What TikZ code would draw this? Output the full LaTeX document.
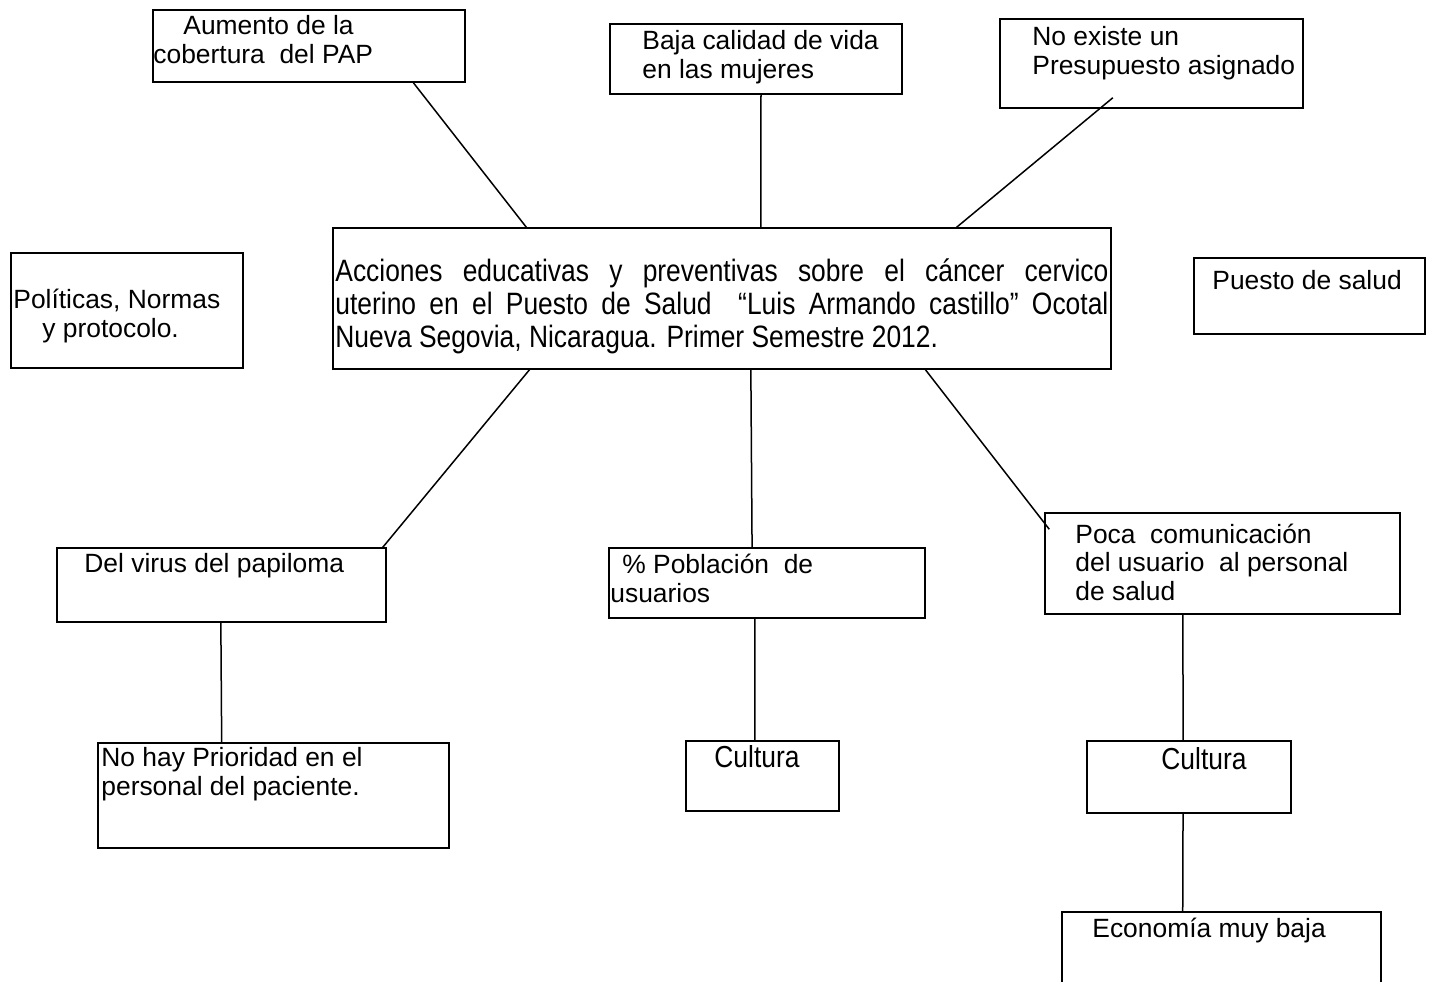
\documentclass[tikz,border=0pt]{standalone}
\usepackage{fontspec}
\setmainfont{Liberation Sans}
\usetikzlibrary{calc,fit}

\begin{document}
\begin{tikzpicture}[
  x=0.5pt, y=-0.5pt,
  font=\fontsize{13.2}{14.2}\selectfont,
  caja/.style={draw,rectangle,line width=0.75pt,inner sep=0pt},
  etiqueta/.style={anchor=base west,inner sep=0pt,align=left},
  enlace/.style={-,line width=0.75pt,black}]

  \clip (0,0) rectangle (1434,981);

  % Cajas (box corners taken from the page layout)
  \node[caja,fit={(153,10) (465,82)}] (cob) {};
  \node[caja,fit={(610,24) (902,94)}] (baja) {};
  \node[caja,fit={(1000,19) (1303,108)}] (pres) {};
  \node[caja,fit={(333,228) (1111,369)}] (centro) {};
  \node[caja,fit={(11,253) (243,368)}] (pol) {};
  \node[caja,fit={(1194,258) (1425,334)}] (puesto) {};
  \node[caja,fit={(57,548) (386,622)}] (virus) {};
  \node[caja,fit={(609,548) (925,618)}] (pob) {};
  \node[caja,fit={(1045,513) (1400,614)}] (poca) {};
  \node[caja,fit={(98,743) (449,848)}] (noHay) {};
  \node[caja,fit={(686,741) (839,811)}] (cult1) {};
  \node[caja,fit={(1087,741) (1291,813)}] (cult2) {};
  \node[caja,fit={(1062,912) (1381,1000)}] (econ) {};

  % Textos (base = baseline of the last line)
  \node[etiqueta] (cobT) at (153,63) {\hspace*{15pt}Aumento de la\\cobertura\ \ del PAP};
  \node[etiqueta] (bajaT) at (642,78) {Baja calidad de vida\\en las mujeres};
  \node[etiqueta] (presT) at (1032,74) {No existe un\\Presupuesto asignado};
  \node[etiqueta] (polT) at (13,337) {Políticas, Normas\\\hspace*{14.5pt}y protocolo.};
  \node[etiqueta] (puestoT) at (1212,289) {Puesto de salud};
  \node[etiqueta] (centroT) at (335,281) {\scalebox{1}[1.17]{\parbox[t]{386.5pt}{\hyphenpenalty=10000
    Acciones educativas y preventivas sobre el cáncer cervico\linebreak
    uterino en el Puesto de Salud\ \ “Luis Armando castillo” Ocotal\linebreak
    Nueva Segovia, Nicaragua. Primer Semestre 2012.}}};
  \node[etiqueta] (virusT) at (84,572) {Del virus del papiloma};
  \node[etiqueta] (pobT) at (610,602) {\hspace*{6pt}\% Población\ \ de\\usuarios};
  \node[etiqueta] (pocaT) at (1075,600) {Poca\ \ comunicación\\del usuario\ \ al personal\\de salud};
  \node[etiqueta] (noHayT) at (101,795) {No hay Prioridad en el\\personal del paciente.};
  \node[etiqueta] (cult1T) at (714,767) {\scalebox{1}[1.15]{Cultura}};
  \node[etiqueta] (cult2T) at (1161,769) {\scalebox{1}[1.15]{Cultura}};
  \node[etiqueta] (econT) at (1092,937) {Economía muy baja};

  % causas hacia el problema central
  \draw[enlace] ($(cob.south west)!0.833!(cob.south east)$) -- ($(centro.north west)!0.249!(centro.north east)$);
  \draw[enlace] ($(baja.south west)!0.517!(baja.south east)$) -- ($(centro.north west)!0.550!(centro.north east)$);
  \draw[enlace] ($(pres.south west)!0.373!(pres.south east)+(0,-11)$) -- ($(centro.north west)!0.801!(centro.north east)$);

  % efectos
  \draw[enlace] ($(centro.south west)!0.253!(centro.south east)$) -- ($(virus.north west)!0.988!(virus.north east)$);
  \draw[enlace] ($(centro.south west)!0.537!(centro.south east)$) -- ($(pob.north west)!0.453!(pob.north east)$);
  \draw[enlace] ($(centro.south west)!0.761!(centro.south east)$) -- ($(poca.north west)+(5,17)$);

  \draw[enlace] ($(virus.south west)!0.498!(virus.south east)$) -- ($(noHay.north west)!0.353!(noHay.north east)$);
  \draw[enlace] ($(pob.south west)!0.462!(pob.south east)$) -- ($(cult1.north west)!0.451!(cult1.north east)$);
  \draw[enlace] ($(poca.south west)!0.389!(poca.south east)$) -- ($(cult2.north west)!0.471!(cult2.north east)$);
  \draw[enlace] ($(cult2.south west)!0.471!(cult2.south east)$) -- ($(econ.north west)!0.379!(econ.north east)$);

\end{tikzpicture}
\end{document}
